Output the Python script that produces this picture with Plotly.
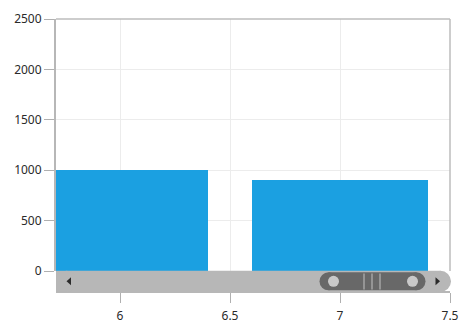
import plotly.graph_objects as go

# Data
x_values = [6, 7]
y_values = [1000, 900]
bar_width = 0.8
x_range = [5.709, 7.5]
y_range = [0, 2500]
x_ticks = [6, 6.5, 7, 7.5]
x_tick_text = ["6", "6.5", "7", "7.5"]
y_ticks = [0, 500, 1000, 1500, 2000, 2500]

W, H = 470, 333
L, R, T, B = 56, 20, 19, 41
PW, PH = W - L - R, H - T - B
PLOT_BOTTOM = 271  # pixel y of value 0


def px(xp):
    return (xp - L) / PW


def py(yp):
    return (H - B - yp) / PH


fig = go.Figure()
fig.add_trace(go.Bar(x=x_values, y=y_values, width=bar_width,
                     marker=dict(color="#1ba0e1", line=dict(width=0)),
                     showlegend=False, hoverinfo="skip"))

shapes = []
grey = "#b7b7b7"
# frame: top and right borders
shapes.append(dict(type="line", xref="paper", yref="paper", x0=px(56), x1=px(450), y0=py(19), y1=py(19),
                   line=dict(color="#bdbdbd", width=1.5)))
shapes.append(dict(type="line", xref="paper", yref="paper", x0=px(450), x1=px(450), y0=py(19), y1=py(271),
                   line=dict(color="#bdbdbd", width=1.5)))
# scrollbar track (pill)
r = 10.5
cy = 281.3
shapes.append(dict(type="rect", xref="paper", yref="paper", x0=px(56 + r), x1=px(451 - r),
                   y0=py(cy - r), y1=py(cy + r), fillcolor=grey, line=dict(width=0)))
shapes.append(dict(type="circle", xref="paper", yref="paper", x0=px(56), x1=px(56 + 2 * r),
                   y0=py(cy - r), y1=py(cy + r), fillcolor=grey, line=dict(width=0)))
shapes.append(dict(type="rect", xref="paper", yref="paper", x0=px(56), x1=px(56 + r),
                   y0=py(cy - r), y1=py(cy + r), fillcolor=grey, line=dict(width=0)))
shapes.append(dict(type="circle", xref="paper", yref="paper", x0=px(451 - 2 * r), x1=px(451),
                   y0=py(cy - r), y1=py(cy + r), fillcolor=grey, line=dict(width=0)))
# thumb
tr = 9
tl, trt = 319.5, 425.5
dark = "#686868"
shapes.append(dict(type="rect", xref="paper", yref="paper", x0=px(tl + tr), x1=px(trt - tr),
                   y0=py(cy - tr), y1=py(cy + tr), fillcolor=dark, line=dict(width=0)))
shapes.append(dict(type="circle", xref="paper", yref="paper", x0=px(tl), x1=px(tl + 2 * tr),
                   y0=py(cy - tr), y1=py(cy + tr), fillcolor=dark, line=dict(width=0)))
shapes.append(dict(type="circle", xref="paper", yref="paper", x0=px(trt - 2 * tr), x1=px(trt),
                   y0=py(cy - tr), y1=py(cy + tr), fillcolor=dark, line=dict(width=0)))
# handle circles
hr = 5.5
for cx in (333.5, 412.5):
    shapes.append(dict(type="circle", xref="paper", yref="paper", x0=px(cx - hr), x1=px(cx + hr),
                       y0=py(cy - hr), y1=py(cy + hr), fillcolor="#c9c9c9", line=dict(width=0)))
# grip lines
for gx in (364, 372, 380):
    shapes.append(dict(type="line", xref="paper", yref="paper", x0=px(gx), x1=px(gx),
                       y0=py(273.5), y1=py(289.5), line=dict(color="#a5a5a5", width=1.5)))
# arrows
shapes.append(dict(type="path", xref="paper", yref="paper",
                   path=f"M {px(66.5)},{py(cy)} L {px(71)},{py(cy - 4)} L {px(71)},{py(cy + 4)} Z",
                   fillcolor="#2b2b2b", line=dict(width=0)))
shapes.append(dict(type="path", xref="paper", yref="paper",
                   path=f"M {px(440)},{py(cy)} L {px(435.5)},{py(cy - 4)} L {px(435.5)},{py(cy + 4)} Z",
                   fillcolor="#2b2b2b", line=dict(width=0)))

font = dict(family="Noto Sans, Open Sans, sans-serif", size=12, color="#2a2a2a")

fig.update_layout(
    width=W, height=H,
    margin=dict(l=L, r=R, t=T, b=B, pad=0, autoexpand=False),
    paper_bgcolor="white", plot_bgcolor="white",
    font=font,
    bargap=0,
    shapes=shapes,
    xaxis=dict(range=x_range, tickvals=x_ticks, ticktext=x_tick_text,
               anchor="free", position=0, automargin=False,
               showline=True, linecolor=grey, linewidth=1.5,
               ticks="outside", ticklen=10, tickcolor="#b0b0b0", tickwidth=1,
               ticklabelstandoff=3,
               showgrid=True, gridcolor="#ececec", gridwidth=1,
               zeroline=False, tickfont=font, fixedrange=True),
    yaxis=dict(range=y_range, tickvals=y_ticks, domain=[py(PLOT_BOTTOM), 1],
               automargin=False,
               showline=True, linecolor=grey, linewidth=2,
               ticks="outside", ticklen=10, tickcolor="#b0b0b0", tickwidth=1,
               showgrid=True, gridcolor="#ececec", gridwidth=1,
               zeroline=False, tickfont=font, fixedrange=True),
)

fig.write_html("out.html")
